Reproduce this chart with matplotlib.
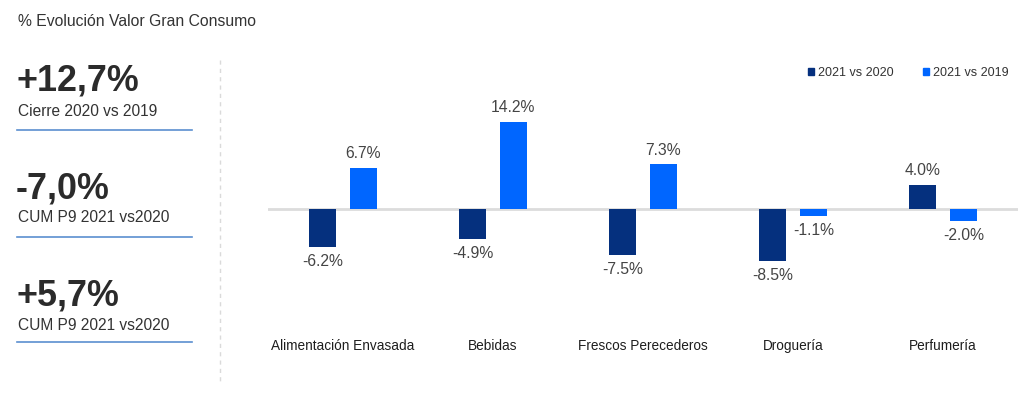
import matplotlib
matplotlib.use("Agg")
import matplotlib.pyplot as plt
from matplotlib.patches import Rectangle
from matplotlib.lines import Line2D
import numpy as np

plt.rcParams['font.family'] = ['Liberation Sans', 'DejaVu Sans']

title = "% Evolución Valor Gran Consumo"
kpi_values = ["+12,7%", "-7,0%", "+5,7%"]
kpi_labels = ["Cierre 2020 vs 2019", "CUM P9 2021 vs2020", "CUM P9 2021 vs2020"]

categories = ["Alimentación Envasada", "Bebidas", "Frescos Perecederos", "Droguería", "Perfumería"]
series_names = ["2021 vs 2020", "2021 vs 2019"]
vs2020 = [-6.2, -4.9, -7.5, -8.5, 4.0]
vs2019 = [6.7, 14.2, 7.3, -1.1, -2.0]

dark = '#05307e'
light = '#0066ff'

W, H = 1033, 395
fig = plt.figure(figsize=(W / 100, H / 100), dpi=100)
fig.patch.set_facecolor('white')

def fx(px):
    return px / W

def fy(py):
    return 1 - py / H

# Left panel
fig.text(fx(18), fy(22), title, fontsize=11.3, color='#333333', va='center', ha='left')
kpi_y = [81, 189, 296]
sub_y = [112, 217, 325]
line_y = [130, 237, 342]
for v, lab, ky, sy, ly in zip(kpi_values, kpi_labels, kpi_y, sub_y, line_y):
    fig.text(fx(16), fy(ky), v, fontsize=25.8, fontweight='bold', color='#2b2b2b', va='center', ha='left')
    fig.text(fx(18), fy(sy), lab, fontsize=11.2, color='#333333', va='center', ha='left')
    fig.add_artist(Line2D([fx(17), fx(192)], [fy(ly), fy(ly)], color='#5b8fd0', lw=1.2))

fig.add_artist(Line2D([fx(220), fx(220)], [fy(60), fy(382)], color='#dadada', lw=1, ls=(0, (3, 3))))

# Chart axes
scale = 6.1  # px per unit
zero_px = 209
ax_top, ax_bot = 100, 300
ax_left, ax_right = 268, 1018
ax = fig.add_axes([fx(ax_left), fy(ax_bot), fx(ax_right - ax_left), (ax_bot - ax_top) / H])
ymax = (zero_px - ax_top) / scale
ymin = -(ax_bot - zero_px) / scale
ax.set_ylim(ymin, ymax)
ax.set_xlim(-0.5, len(categories) - 0.5)

x = np.arange(len(categories))
bw = 0.18
off = 0.135
ax.axhline(0, color='#dcdcdc', lw=2, zorder=1)
ax.bar(x - off, vs2020, width=bw, color=dark, zorder=2)
ax.bar(x + off, vs2019, width=bw, color=light, zorder=2)

for xs, vals in ((x - off, vs2020), (x + off, vs2019)):
    for xi, v in zip(xs, vals):
        if v >= 0:
            ax.annotate(f"{v:.1f}%", (xi, v), xytext=(0, 5), textcoords='offset points',
                        ha='center', va='bottom', fontsize=11.3, color='#444444')
        else:
            ax.annotate(f"{v:.1f}%", (xi, v), xytext=(0, -5), textcoords='offset points',
                        ha='center', va='top', fontsize=11.3, color='#444444')

ax.set_xticks(x)
ax.set_xticklabels(categories, fontsize=9.8, color='#1e1e1e')
ax.tick_params(axis='x', length=0, pad=28)
ax.set_yticks([])
for s in ax.spines.values():
    s.set_visible(False)
ax.patch.set_alpha(0)

handles = [Rectangle((0, 0), 1, 1, color=dark), Rectangle((0, 0), 1, 1, color=light)]
fig.legend(handles, series_names, loc='center right', bbox_to_anchor=(fx(1020), fy(73)),
           ncol=2, frameon=False, fontsize=9, handlelength=0.5, handleheight=0.5,
           handletextpad=0.3, columnspacing=2.4, labelcolor='#333333')

fig.savefig('out.png', dpi=100)
